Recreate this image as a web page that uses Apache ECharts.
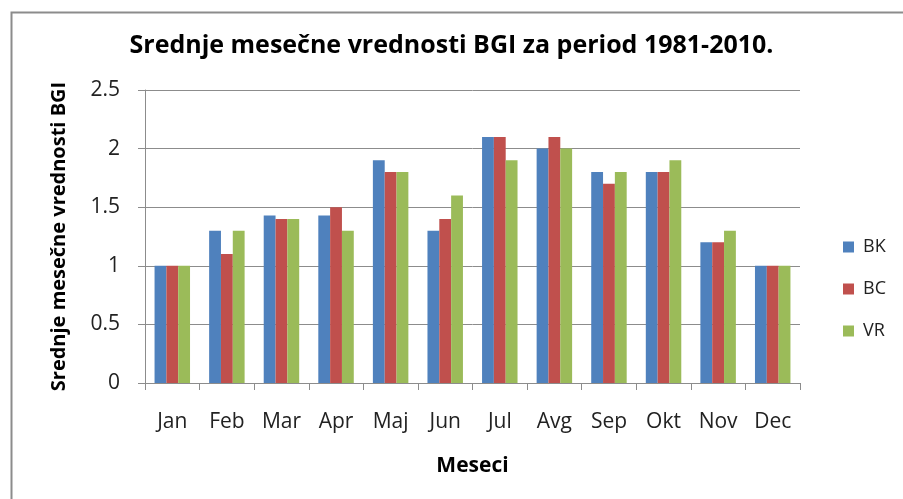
<!DOCTYPE html>
<html>
<head>
  <meta charset="utf-8">
  <title>Srednje mesečne vrednosti BGI</title>
  <script src="https://cdn.jsdelivr.net/npm/echarts@6/dist/echarts.min.js"></script>
  <style>
    html, body { margin: 0; padding: 0; background: #fff; }
    #chart { width: 903px; height: 499px; }
  </style>
</head>
<body>
  <div id="chart"></div>
  <script>
    // months and series values
    const months = ['Jan', 'Feb', 'Mar', 'Apr', 'Maj', 'Jun', 'Jul', 'Avg', 'Sep', 'Okt', 'Nov', 'Dec'];
    const bk = [1.0, 1.3, 1.43, 1.43, 1.9, 1.3, 2.1, 2.0, 1.8, 1.8, 1.2, 1.0];
    const bc = [1.0, 1.1, 1.4, 1.5, 1.8, 1.4, 2.1, 2.1, 1.7, 1.8, 1.2, 1.0];
    const vr = [1.0, 1.3, 1.4, 1.3, 1.8, 1.6, 1.9, 2.0, 1.8, 1.9, 1.3, 1.0];

    const font = '"Open Sans", Lato, sans-serif';
    const chart = echarts.init(document.getElementById('chart'));

    function bar(name, data, color) {
      return {
        name: name,
        type: 'bar',
        data: data,
        barGap: '0%',
        barCategoryGap: '35%',
        itemStyle: { color: color },
        emphasis: { disabled: true }
      };
    }

    chart.setOption({
      animation: false,
      textStyle: { fontFamily: font },
      graphic: [{
        type: 'rect',
        left: 9, top: 10,
        shape: { width: 900, height: 500 },
        style: { fill: null, stroke: '#8c8c8c', lineWidth: 2 },
        silent: true
      }],
      title: {
        text: 'Srednje mesečne vrednosti BGI za period 1981-2010.',
        left: 'center',
        top: 28,
        textStyle: { fontFamily: font, fontSize: 25, fontWeight: 'bold', color: '#000' }
      },
      legend: {
        orient: 'vertical',
        left: 838,
        top: 233,
        itemWidth: 11,
        itemHeight: 11,
        itemGap: 24,
        icon: 'rect',
        textStyle: { fontFamily: font, fontSize: 18, color: '#222', padding: [0, 0, 0, 4] },
        data: ['BK', 'BC', 'VR']
      },
      grid: { left: 145, right: 103, top: 90, bottom: 116, containLabel: false },
      xAxis: {
        type: 'category',
        data: months,
        name: 'Meseci',
        nameLocation: 'middle',
        nameGap: 73,
        nameTextStyle: { fontFamily: font, fontSize: 21, fontWeight: 'bold', color: '#000' },
        axisLine: { lineStyle: { color: '#8c8c8c' } },
        axisTick: { show: true, length: 7, lineStyle: { color: '#8c8c8c' } },
        axisLabel: { fontFamily: font, fontSize: 21, color: '#222', margin: 29 }
      },
      yAxis: {
        type: 'value',
        min: 0,
        max: 2.5,
        interval: 0.5,
        name: 'Srednje mesečne vrednosti BGI',
        nameLocation: 'middle',
        nameGap: 76,
        nameTextStyle: { fontFamily: font, fontSize: 20, fontWeight: 'bold', color: '#000' },
        axisLine: { show: true, lineStyle: { color: '#8c8c8c' } },
        axisTick: { show: true, length: 7, lineStyle: { color: '#8c8c8c' } },
        axisLabel: { fontFamily: font, fontSize: 21, color: '#222', margin: 25 },
        splitLine: { lineStyle: { color: '#8c8c8c' } }
      },
      series: [
        bar('BK', bk, '#4F81BD'),
        bar('BC', bc, '#C0504D'),
        bar('VR', vr, '#9BBB59')
      ]
    });
  </script>
</body>
</html>
